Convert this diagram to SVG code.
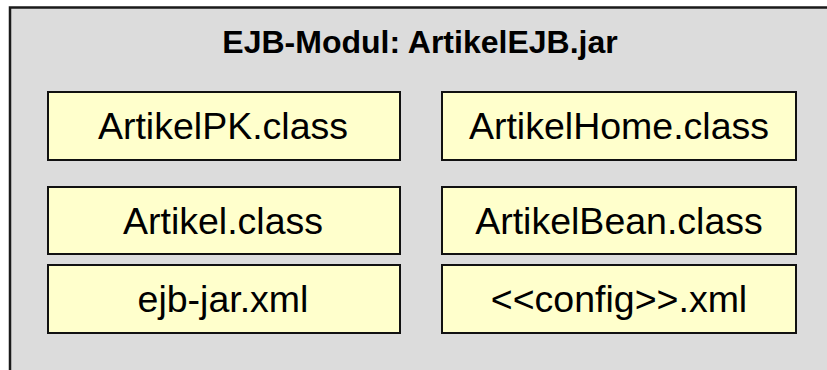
<svg xmlns="http://www.w3.org/2000/svg" width="827" height="370" viewBox="0 0 827 370">
  <style>
    .module { fill: #dcdcdc; stroke: #1a1a1a; stroke-width: 2.5; }
    .file { fill: #ffffcc; stroke: #111; stroke-width: 2; }
    .title { font-family: "Liberation Sans", Arial, sans-serif; font-weight: bold; font-size: 32px; fill: #000; text-anchor: middle; }
    .label { font-family: "Liberation Sans", Arial, sans-serif; font-size: 37.5px; fill: #000; text-anchor: middle; }
  </style>
  <rect width="827" height="370" fill="#ffffff"/>
  <g id="module">
    <rect class="module" x="10" y="7.5" width="830" height="380"/>
    <text class="title" x="420" y="53">EJB-Modul: ArtikelEJB.jar</text>
  </g>
  <g id="artikelpk">
    <rect class="file" x="48" y="92" width="352" height="68"/>
    <text class="label" x="223" y="139">ArtikelPK.class</text>
  </g>
  <g id="artikelhome">
    <rect class="file" x="442" y="92" width="354" height="68"/>
    <text class="label" x="619" y="139">ArtikelHome.class</text>
  </g>
  <g id="artikel">
    <rect class="file" x="48" y="187" width="352" height="67"/>
    <text class="label" x="223" y="234">Artikel.class</text>
  </g>
  <g id="artikelbean">
    <rect class="file" x="442" y="187" width="354" height="67"/>
    <text class="label" x="619" y="234">ArtikelBean.class</text>
  </g>
  <g id="ejbjar">
    <rect class="file" x="48" y="265" width="352" height="68"/>
    <text class="label" x="223" y="312">ejb-jar.xml</text>
  </g>
  <g id="config">
    <rect class="file" x="442" y="265" width="354" height="68"/>
    <text class="label" x="619" y="312">&lt;&lt;config&gt;&gt;.xml</text>
  </g>
  <g id="connectors"/>
</svg>
